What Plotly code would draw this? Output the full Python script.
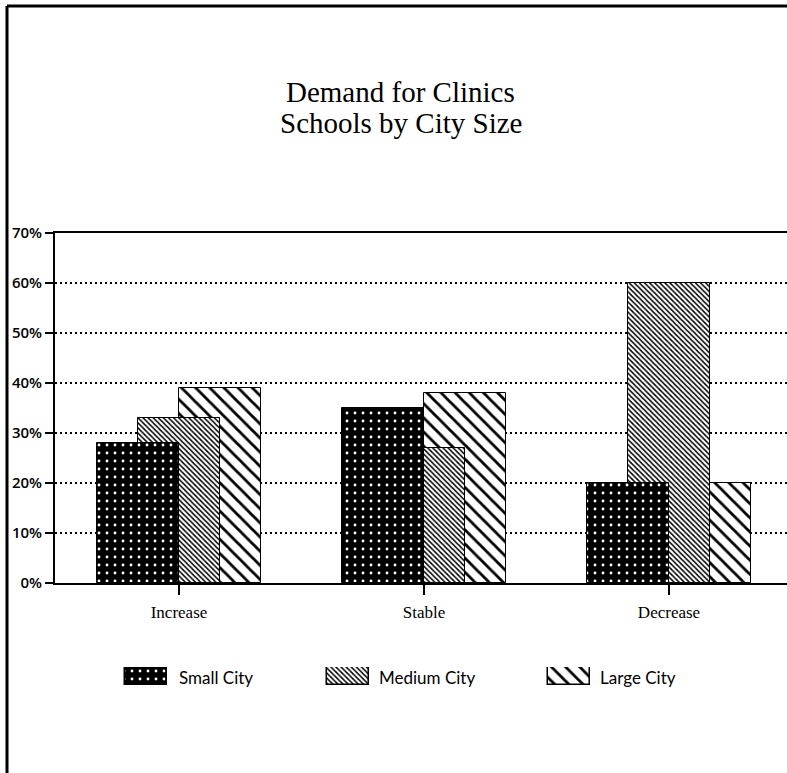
import plotly.graph_objects as go

# --- data -------------------------------------------------------------
categories = ["Increase", "Stable", "Decrease"]
series_names = ["Small City", "Medium City", "Large City"]
small_city = [28, 35, 20]
medium_city = [33, 27, 60]
large_city = [39, 38, 20]
y_tick_values = [0, 10, 20, 30, 40, 50, 60, 70]
y_tick_labels = [f"{v}%" for v in y_tick_values]
title_lines = ["Demand for Clinics", "Schools by City Size"]

# --- page geometry (pixels) -------------------------------------------
W, H = 787, 773
PLOT_LEFT, PLOT_RIGHT = 55, 787
PLOT_TOP, PLOT_BOTTOM = 233, 583


def px_x(x):
    return x / W


def px_y(y):
    return (H - y) / H


# bar placement inside each category (category units)
BAR_W = 0.335
offsets = {"Small City": -BAR_W, "Medium City": -BAR_W / 2, "Large City": 0.0}

patterns = {
    "Small City": dict(shape=".", fgcolor="white", bgcolor="black",
                       size=8, solidity=0.1, fillmode="replace"),
    "Medium City": dict(shape="\\", fgcolor="black", bgcolor="white",
                        size=3.6, solidity=0.42, fillmode="replace"),
    "Large City": dict(shape="\\", fgcolor="black", bgcolor="white",
                       size=10, solidity=0.28, fillmode="replace"),
}
values = {"Small City": small_city, "Medium City": medium_city,
          "Large City": large_city}

fig = go.Figure()
x_pos = list(range(len(categories)))

# back-to-front: large, medium, small
for name in ["Large City", "Medium City", "Small City"]:
    fig.add_trace(go.Bar(
        x=x_pos, y=values[name], name=name,
        width=BAR_W, offset=offsets[name],
        marker=dict(color="black" if name == "Small City" else "white",
                    pattern=patterns[name],
                    line=dict(color="black", width=1)),
        showlegend=False, xaxis="x", yaxis="y",
    ))

# legend keys drawn on their own hidden axis
legend_swatch_left = [125, 327, 548]
legend_text_left = [177, 377, 598]
SW_W = 42
for name, left in zip(series_names, legend_swatch_left):
    fig.add_trace(go.Bar(
        x=[left], y=[1], width=SW_W, offset=0,
        marker=dict(color="black" if name == "Small City" else "white",
                    pattern=patterns[name],
                    line=dict(color="black", width=1.5)),
        showlegend=False, xaxis="x2", yaxis="y2", hoverinfo="skip",
    ))

legend_font = dict(family="Lato, Open Sans, sans-serif", size=17, color="black")
annotations = []
for name, left in zip(series_names, legend_text_left):
    annotations.append(dict(
        x=px_x(left), y=px_y(677), xref="paper", yref="paper",
        text=name, showarrow=False, xanchor="left", yanchor="middle",
        font=legend_font,
    ))

title_font = dict(family="Liberation Serif, Times New Roman, serif", size=29,
                  color="black")
for line, yc in zip(title_lines, [92, 123]):
    annotations.append(dict(
        x=px_x(401), y=px_y(yc), xref="paper", yref="paper",
        text=line, showarrow=False, xanchor="center", yanchor="middle",
        font=title_font,
    ))

spacing_px = 245.0
plot_w = PLOT_RIGHT - PLOT_LEFT
x0 = -(179 - PLOT_LEFT) / spacing_px
x1 = x0 + plot_w / spacing_px

fig.update_layout(
    width=W, height=H,
    margin=dict(l=0, r=0, t=0, b=0, autoexpand=False),
    paper_bgcolor="white", plot_bgcolor="white",
    barmode="overlay",
    bargap=0,
    showlegend=False,
    xaxis=dict(
        domain=[px_x(PLOT_LEFT), px_x(PLOT_RIGHT)],
        range=[x0, x1], automargin=False,
        tickvals=x_pos, ticktext=categories,
        ticks="outside", ticklen=10, tickwidth=2, tickcolor="black",
        showline=True, linecolor="black", linewidth=2, mirror=True,
        showgrid=False, zeroline=False,
        ticklabelstandoff=3,
        tickfont=dict(family="Liberation Serif, Times New Roman, serif",
                      size=17, color="black"),
    ),
    yaxis=dict(
        domain=[px_y(PLOT_BOTTOM), px_y(PLOT_TOP)],
        range=[0, 70], automargin=False,
        tickvals=y_tick_values, ticktext=y_tick_labels,
        ticks="outside", ticklen=8, tickwidth=2, tickcolor="black",
        showline=True, linecolor="black", linewidth=2,
        showgrid=True, gridcolor="black", gridwidth=2, griddash="2px,3px",
        zeroline=False,
        tickfont=dict(family="Open Sans, sans-serif", size=15,
                      color="black", weight=600),
    ),
    xaxis2=dict(domain=[0, 1], range=[0, W], visible=False, automargin=False),
    yaxis2=dict(domain=[px_y(685), px_y(667)], range=[0, 1], visible=False,
                automargin=False),
    annotations=annotations,
    shapes=[
        # page frame: top and left rules
        dict(type="line", xref="paper", yref="paper",
             x0=px_x(7), x1=1, y0=px_y(6), y1=px_y(6),
             line=dict(color="black", width=3)),
        dict(type="line", xref="paper", yref="paper",
             x0=px_x(7), x1=px_x(7), y0=px_y(6), y1=0,
             line=dict(color="black", width=3)),
    ],
)

fig.write_html("out.html")
